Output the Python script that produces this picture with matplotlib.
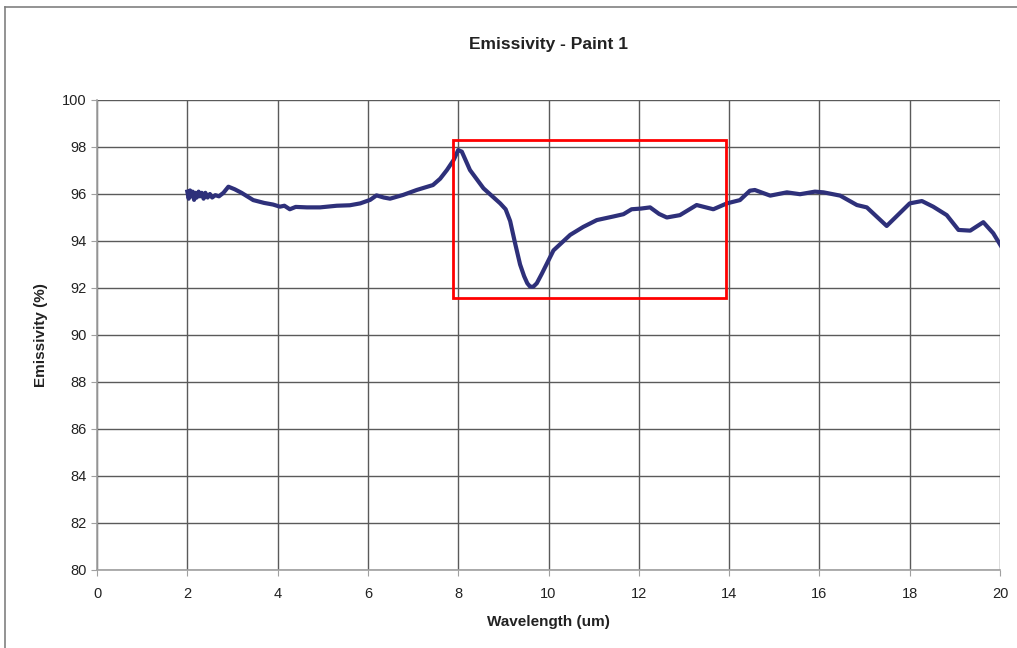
import numpy as np
import matplotlib.pyplot as plt
from matplotlib.patches import Rectangle
from matplotlib.lines import Line2D

plt.rcParams['font.family'] = ['Liberation Sans', 'DejaVu Sans']

# dane
wavelength = [2.00, 2.03, 2.06, 2.09, 2.12, 2.15, 2.18, 2.21, 2.25, 2.28, 2.32, 2.36, 2.40, 2.45,
              2.50, 2.55, 2.62, 2.70, 2.80, 2.91, 3.05, 3.20, 3.46, 3.70, 3.90, 4.05, 4.15, 4.27,
              4.40, 4.65, 4.94, 5.31, 5.60, 5.83, 6.05, 6.19, 6.35, 6.49, 6.78, 7.08, 7.44,
              7.60, 7.75, 7.90, 8.00, 8.08, 8.26, 8.56, 8.93, 9.05, 9.15, 9.26, 9.37, 9.46, 9.53,
              9.59, 9.66, 9.74, 9.85, 10.11, 10.48, 10.77, 11.07, 11.43, 11.66, 11.84, 12.05,
              12.25, 12.45, 12.62, 12.91, 13.28, 13.65, 13.95, 14.24, 14.46, 14.57, 14.91, 15.28,
              15.57, 15.90, 16.09, 16.46, 16.83, 17.05, 17.49, 18.00, 18.27, 18.52, 18.82, 19.08,
              19.34, 19.63, 19.85, 20.04]
emissivity = [96.10, 95.80, 96.15, 95.90, 96.10, 95.75, 96.05, 95.85, 96.10, 95.90, 96.05, 95.80,
              96.05, 95.85, 96.00, 95.85, 95.95, 95.90, 96.05, 96.31, 96.20, 96.05, 95.74, 95.62,
              95.55, 95.46, 95.50, 95.35, 95.45, 95.43, 95.43, 95.50, 95.52, 95.60, 95.75, 95.94,
              95.85, 95.80, 95.96, 96.17, 96.38, 96.65, 97.02, 97.45, 97.87, 97.80, 97.02, 96.24,
              95.60, 95.35, 94.85, 93.90, 93.00, 92.50, 92.20, 92.06, 92.05, 92.20, 92.60, 93.60,
              94.26, 94.60, 94.89, 95.04, 95.14, 95.35, 95.38, 95.43, 95.15, 95.00, 95.10, 95.53,
              95.35, 95.60, 95.74, 96.14, 96.17, 95.93, 96.07, 95.99, 96.10, 96.07, 95.93, 95.53,
              95.43, 94.64, 95.60, 95.70, 95.46, 95.10, 94.47, 94.44, 94.80, 94.33, 93.73]

x_ticks = np.arange(0, 21, 2)
y_ticks = np.arange(80, 101, 2)

# obszar zaznaczony na wykresie
box_x = [7.88, 13.93]
box_y = [91.57, 98.3]

fig = plt.figure(figsize=(10.17, 6.48), dpi=100)
ax = fig.add_axes([0.0954, 0.1204, 0.8879, 0.7253])

ax.plot(wavelength, emissivity, color='#2e307a', linewidth=3.0, solid_joinstyle='round', zorder=3)

ax.add_patch(Rectangle((box_x[0], box_y[0]), box_x[1] - box_x[0], box_y[1] - box_y[0],
                       fill=False, edgecolor='#ff0000', linewidth=2, zorder=4))

ax.set_xlim(0, 20)
ax.set_ylim(80, 100)
ax.set_xticks(x_ticks)
ax.set_yticks(y_ticks)
ax.grid(True, color='#5a5a5a', linewidth=1)
ax.set_axisbelow(True)
for s in ['top', 'right']:
    ax.spines[s].set_visible(False)
for s in ['left', 'bottom']:
    ax.spines[s].set_color('#a0a0a0')
    ax.spines[s].set_linewidth(1.2)
ax.tick_params(colors='#a0a0a0', labelcolor='#222222', labelsize=10.5, length=4)
ax.tick_params(axis='x', pad=8)

ax.set_title('Emissivity - Paint 1', fontsize=12.5, fontweight='bold', pad=37, color='#222222')
ax.set_xlabel('Wavelength (um)', fontsize=11, fontweight='bold', labelpad=10, color='#222222')
ax.set_ylabel('Emissivity (%)', fontsize=11, fontweight='bold', labelpad=10, color='#222222')

# ramka wokol wykresu
fig.add_artist(Line2D([5 / 1017, 1.0], [1 - 7 / 648, 1 - 7 / 648], color='#808080', linewidth=1.2))
fig.add_artist(Line2D([5 / 1017, 5 / 1017], [0, 1 - 7 / 648], color='#808080', linewidth=1.2))

plt.savefig('out.png', dpi=100)
